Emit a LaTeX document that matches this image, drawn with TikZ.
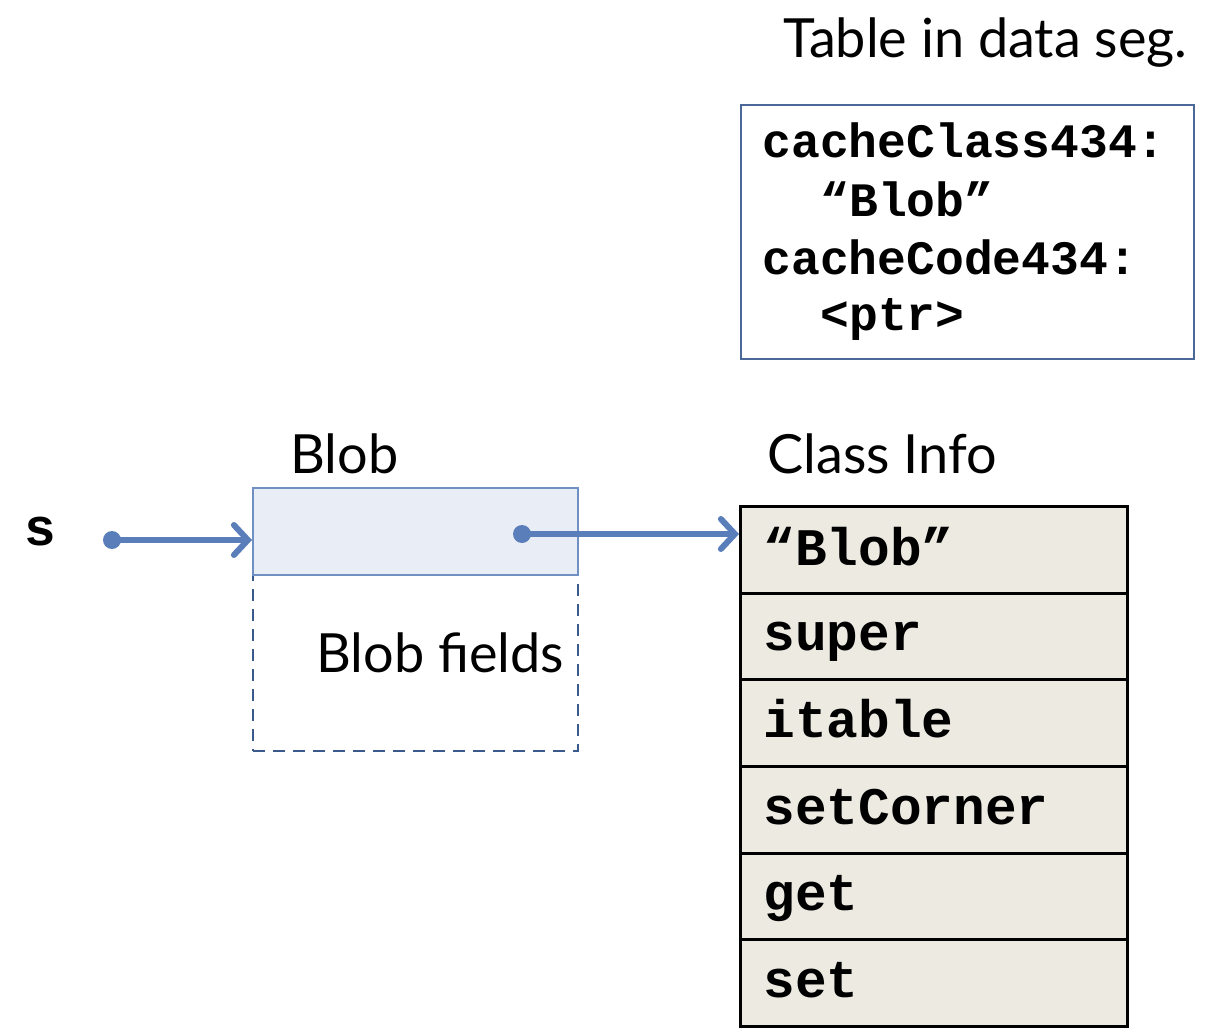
\documentclass[tikz,border=0pt]{standalone}
\usepackage{fontspec}
\setmainfont{Lato}
\setmonofont{Liberation Mono}
\usetikzlibrary{arrows.meta}
\definecolor{ptrblue}{HTML}{5A7EB9}
\definecolor{blobfill}{HTML}{E9EDF5}
\definecolor{blobedge}{HTML}{7090C4}
\definecolor{dashblue}{HTML}{3A5A8C}
\definecolor{tabfill}{HTML}{EDEAE2}
\definecolor{boxedge}{HTML}{4A6898}
\tikzset{
  lbl/.style={inner sep=0pt, anchor=base west, font=\fontsize{27}{31}\selectfont},
  toptxt/.style={inner sep=0pt, anchor=base west, font=\fontsize{24}{28}\selectfont\ttfamily\bfseries},
  rowtxt/.style={inner sep=0pt, anchor=base west, font=\fontsize{26.4}{30}\selectfont\ttfamily\bfseries},
  rowbox/.style={draw=black, line width=1.5pt, fill=tabfill, minimum width=193.5pt, minimum height=43.3pt, inner sep=0pt, anchor=north west},
  ptr/.style={draw=ptrblue, line width=3pt, line cap=round, -{Straight Barb[length=7pt,width=15pt,line cap=round]}},
  ptrdot/.style={circle, fill=ptrblue, inner sep=0pt, minimum size=9pt}
}
\begin{document}
\begin{tikzpicture}[x=0.5pt,y=-0.5pt]
\useasboundingbox (0,0) rectangle (1208,1032);
% title
\node[lbl, anchor=base east] (title) at (1188,58) {Table in data seg.};
% top box
\node[draw=boxedge, line width=1pt, minimum width=226.5pt, minimum height=127pt, inner sep=0pt, anchor=north west] (tbox) at (740,104) {};
\node[toptxt] (t1) at (762,158) {cacheClass434:};
\node[toptxt] (t2) at (820,216) {“Blob”};
\node[toptxt] (t3) at (762,274) {cacheCode434:};
\node[toptxt] (t4) at (820,330) {<ptr>};
% labels
\node[lbl] (bloblbl) at (290,473) {Blob};
\node[lbl] (cilbl) at (767,473) {Class Info};
% blob
\node[draw=dashblue, line width=1pt, dash pattern=on 6pt off 4pt, minimum width=162.5pt, minimum height=88pt, inner sep=0pt, anchor=north west] (fields) at (252,574) {};
\node[draw=blobedge, fill=blobfill, line width=1pt, minimum width=162.5pt, minimum height=43.5pt, inner sep=0pt, anchor=north west] (blob) at (252,487) {};
\node[lbl] (fieldstxt) at (316,672) {Blob fields};
% s
\node[rowtxt] (s) at (24,545) {s};
% class info rows
\node[rowbox] (r1) at (739,505) {};
\node[rowbox] (r2) at (739,592) {};
\node[rowbox] (r3) at (739,678) {};
\node[rowbox] (r4) at (739,765) {};
\node[rowbox] (r5) at (739,852) {};
\node[rowbox] (r6) at (739,938) {};
\node[rowtxt] at (763,565) {“Blob”};
\node[rowtxt] at (763,650) {super};
\node[rowtxt] at (763,737) {itable};
\node[rowtxt] at (763,824) {setCorner};
\node[rowtxt] at (763,910) {get};
\node[rowtxt] at (763,997) {set};
% pointers
\node[ptrdot] (d1) at (112,540) {};
\node[ptrdot] (d2) at (522,534) {};
\coordinate (b1) at (blob.west |- d1);
\coordinate (c1) at (r1.west |- d2);
\draw[ptr] (d1.center) -- (b1);
\draw[ptr] (d2.center) -- (c1);
\end{tikzpicture}
\end{document}
